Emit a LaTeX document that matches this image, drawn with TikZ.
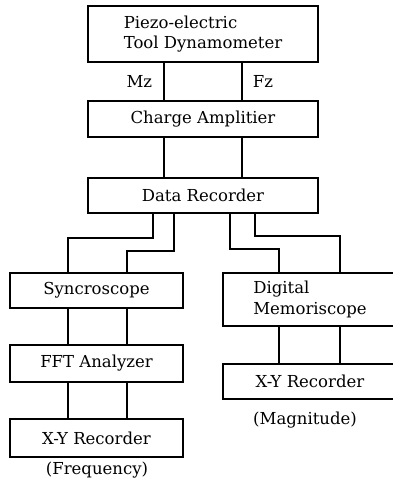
\documentclass[tikz,border=0pt]{standalone}
\usepackage{fontspec}
\setmainfont{DejaVu Serif}
\usetikzlibrary{calc,positioning}
\tikzstyle{block} = [draw, rectangle, line width=1.8pt,
    minimum height=35pt, minimum width=173pt, align=center]
\tikzstyle{wblock} = [block, minimum width=230pt]
\tikzstyle{lbl} = [inner sep=0pt]

\begin{document}
\begin{tikzpicture}[x=1pt,y=-1pt,line width=1.8pt,
    font=\fontsize{16.5}{20.5}\selectfont]
\useasboundingbox (0,0) rectangle (393,485);

% upper chain
\node (piezo) [wblock,minimum height=56pt,align=left] at (203,34) {Piezo-electric\\Tool Dynamometer};
\node (charge) [wblock,minimum height=36pt] at (203,119) {Charge Amplitier};
\node (datarec) [wblock] at (203,195.5) {Data Recorder};

% left branch
\node (sync) [block] at (96.5,290.5) {Syncroscope};
\node (fft) [block,minimum height=37pt] at (96.5,363.5) {FFT Analyzer};
\node (xyfreq) [block,minimum height=38pt] at (96.5,438) {X-Y Recorder};
\node (freq) [lbl] at (97,470) {(Frequency)};

% right branch
\node (memscope) [block,minimum height=53pt,minimum width=174pt,align=left] at (310,299.5) {Digital\\Memoriscope};
\node (xymag) [block,minimum height=35pt,minimum width=174pt] at (310,381.5) {X-Y Recorder};
\node (magn) [lbl] at (305,420) {(Magnitude)};

% line positions
\coordinate (mz_x) at (164,0);
\coordinate (fz_x) at (242,0);
\coordinate (sl_x) at (68,0);
\coordinate (sr_x) at (127,0);
\coordinate (ml_x) at (279,0);
\coordinate (mr_x) at (340,0);

\draw (piezo.south -| mz_x) -- node[lbl,left=11pt] (mz) {Mz} (charge.north -| mz_x);
\draw (piezo.south -| fz_x) -- node[lbl,right=10pt] (fz) {Fz} (charge.north -| fz_x);
\draw (charge.south -| mz_x) -- (datarec.north -| mz_x);
\draw (charge.south -| fz_x) -- (datarec.north -| fz_x);

\draw (datarec.south -| 153,0) -- ++(0,24) -| (sync.north -| sl_x);
\draw (datarec.south -| 174,0) -- ++(0,37) -| (sync.north -| sr_x);
\draw (datarec.south -| 230,0) -- ++(0,35) -| (memscope.north -| ml_x);
\draw (datarec.south -| 255,0) -- ++(0,22) -| (memscope.north -| mr_x);

\draw (sync.south -| sl_x) -- (fft.north -| sl_x);
\draw (sync.south -| sr_x) -- (fft.north -| sr_x);
\draw (fft.south -| sl_x) -- (xyfreq.north -| sl_x);
\draw (fft.south -| sr_x) -- (xyfreq.north -| sr_x);
\draw (memscope.south -| ml_x) -- (xymag.north -| ml_x);
\draw (memscope.south -| mr_x) -- (xymag.north -| mr_x);
\end{tikzpicture}
\end{document}
